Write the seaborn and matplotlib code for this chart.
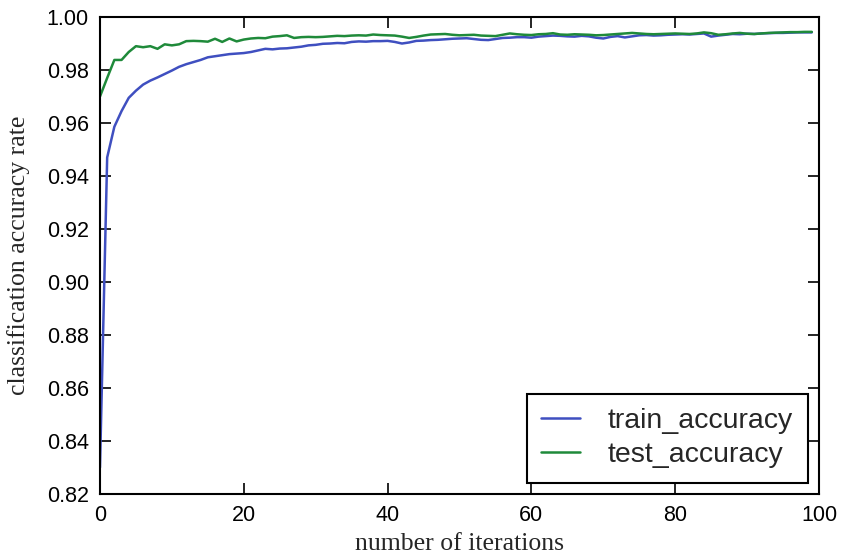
import matplotlib
matplotlib.use("Agg")
import matplotlib.pyplot as plt
import seaborn as sns

# accuracy per iteration
iterations = list(range(100))

train_accuracy = [
    0.8300, 0.9470, 0.9586, 0.9645, 0.9695, 0.9722, 0.9745, 0.9760, 0.9772, 0.9785,
    0.9798, 0.9812, 0.9822, 0.9830, 0.9838, 0.9848, 0.9852, 0.9856, 0.9860, 0.9862,
    0.9864, 0.9868, 0.9874, 0.9880, 0.9878, 0.9881, 0.9882, 0.9885, 0.9888, 0.9893,
    0.9895, 0.9899, 0.9900, 0.9902, 0.9901, 0.9906, 0.9908, 0.9907, 0.9909, 0.9909,
    0.9910, 0.9906, 0.9900, 0.9904, 0.9910, 0.9911, 0.9913, 0.9914, 0.9916, 0.9918,
    0.9919, 0.9920, 0.9917, 0.9914, 0.9913, 0.9917, 0.9921, 0.9922, 0.9924, 0.9924,
    0.9922, 0.9926, 0.9928, 0.9930, 0.9929, 0.9927, 0.9926, 0.9929, 0.9927, 0.9922,
    0.9919, 0.9925, 0.9928, 0.9923, 0.9927, 0.9931, 0.9932, 0.9930, 0.9931, 0.9933,
    0.9934, 0.9935, 0.9934, 0.9936, 0.9938, 0.9926, 0.9930, 0.9933, 0.9936, 0.9935,
    0.9937, 0.9936, 0.9938, 0.9939, 0.9940, 0.9940, 0.9941, 0.9942, 0.9942, 0.9942,
]

test_accuracy = [
    0.9700, 0.9770, 0.9838, 0.9838, 0.9868, 0.9890, 0.9886, 0.9890, 0.9880, 0.9897,
    0.9893, 0.9897, 0.9909, 0.9910, 0.9909, 0.9907, 0.9918, 0.9906, 0.9919, 0.9908,
    0.9915, 0.9919, 0.9921, 0.9920, 0.9926, 0.9928, 0.9931, 0.9921, 0.9924, 0.9925,
    0.9924, 0.9925, 0.9927, 0.9929, 0.9928, 0.9930, 0.9931, 0.9930, 0.9934, 0.9932,
    0.9931, 0.9930, 0.9926, 0.9921, 0.9925, 0.9930, 0.9934, 0.9935, 0.9936, 0.9933,
    0.9931, 0.9932, 0.9933, 0.9930, 0.9929, 0.9928, 0.9933, 0.9938, 0.9935, 0.9933,
    0.9932, 0.9935, 0.9936, 0.9939, 0.9934, 0.9933, 0.9935, 0.9934, 0.9933, 0.9931,
    0.9932, 0.9934, 0.9936, 0.9938, 0.9940, 0.9938, 0.9936, 0.9935, 0.9936, 0.9937,
    0.9938, 0.9937, 0.9936, 0.9938, 0.9942, 0.9939, 0.9933, 0.9935, 0.9938, 0.9940,
    0.9937, 0.9936, 0.9938, 0.9940, 0.9941, 0.9942, 0.9943, 0.9943, 0.9944, 0.9944,
]

y_ticks = [0.82, 0.84, 0.86, 0.88, 0.90, 0.92, 0.94, 0.96, 0.98, 1.00]
x_ticks = [0, 20, 40, 60, 80, 100]

sns.set_style("ticks")
plt.rcParams["font.family"] = ["Liberation Sans", "DejaVu Sans"]

fig = plt.figure(figsize=(8.43, 5.60), dpi=100)
ax = fig.add_axes([0.1186, 0.1179, 0.8529, 0.8517])

sns.lineplot(x=iterations, y=train_accuracy, ax=ax, color="#3f4fc0",
             linewidth=1.8, label="train_accuracy")
sns.lineplot(x=iterations, y=test_accuracy, ax=ax, color="#1f8a3a",
             linewidth=1.8, label="test_accuracy")

ax.set_xlim(0, 100)
ax.set_ylim(0.82, 1.00)
ax.set_xticks(x_ticks)
ax.set_yticks(y_ticks)
ax.set_yticklabels([f"{v:.2f}" for v in y_ticks])
ax.tick_params(direction="in", length=8, width=1.2, top=True, right=True,
               labelsize=15.5, pad=8, colors="black")
for s in ax.spines.values():
    s.set_linewidth(1.5)
    s.set_color("black")

serif = ["Liberation Serif", "DejaVu Serif"]
ax.set_xlabel("number of iterations", fontsize=18.5, family=serif, labelpad=5)
ax.set_ylabel("classification accuracy rate", fontsize=18.5, family=serif, labelpad=12)

leg = ax.legend(loc="lower right", fontsize=20.5, frameon=True, fancybox=False,
                handlelength=1.35, handletextpad=1.0, borderpad=0.5,
                labelspacing=0.3, borderaxespad=0.4, edgecolor="black",
                framealpha=1)
leg.get_frame().set_linewidth(1.5)

fig.savefig("out.png", dpi=100)
